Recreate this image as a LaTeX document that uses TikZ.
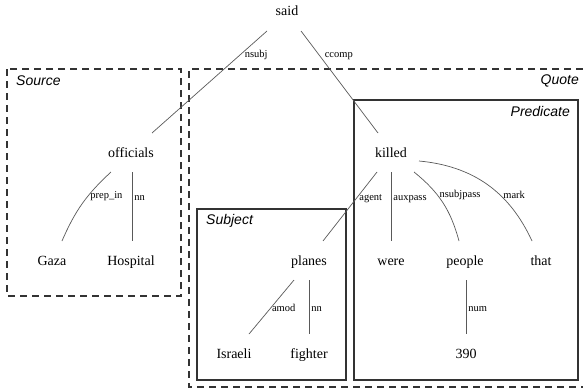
\documentclass[tikz,border=0pt]{standalone}
\usepackage{fontspec}
\setmainfont{Liberation Serif}
\setsansfont{Liberation Sans}
\usetikzlibrary{calc}
\tikzset{
  word/.style={font=\fontsize{14}{16}\selectfont, inner sep=0pt, text height=9pt, text depth=1pt},
  rel/.style={font=\fontsize{10.5}{12}\selectfont, inner sep=2pt, text height=5pt, text depth=0pt, anchor=west},
  edge/.style={draw=black!65, line width=.7pt},
  dashbox/.style={draw=black!80, line width=1.1pt, dash pattern=on 7pt off 5pt},
  solidbox/.style={draw=black!80, line width=1.1pt},
  boxlabel/.style={font=\sffamily\itshape\fontsize{14}{16}\selectfont, inner sep=0pt, text height=10pt, text depth=0pt}
}

\begin{document}
\begin{tikzpicture}[x=1pt,y=-1pt]
\useasboundingbox (0,0) rectangle (583,388);

% Source and quote regions
\draw[dashbox] (7,69) rectangle (181,296);
\draw[dashbox] (583,69) -- (189,69) -- (189,387) -- (583,387);
\node[boxlabel,anchor=west] (source) at (16,80) {Source};
\node[boxlabel,anchor=east] (quote) at (579,79) {Quote};

% Subject and predicate inside the quote
\draw[solidbox] (197,209) rectangle (346,380);
\draw[solidbox] (354,100) rectangle (578,380);
\node[boxlabel,anchor=west] (subject) at (206,219) {Subject};
\node[boxlabel,anchor=east] (predicate) at (570,111) {Predicate};

% Words of the sentence
\node[word] (said)      at (287,12)  {said};
\node[word] (officials) at (131,153) {officials};
\node[word] (killed)    at (391,153) {killed};
\node[word] (gaza)      at (52,261)  {Gaza};
\node[word] (hospital)  at (131,261) {Hospital};
\node[word] (planes)    at (309,261) {planes};
\node[word] (were)      at (391,261) {were};
\node[word] (people)    at (465,261) {people};
\node[word] (that)      at (541,261) {that};
\node[word] (israeli)   at (234,354) {Israeli};
\node[word] (fighter)   at (309,354) {fighter};
\node[word] (num390)    at (466,354) {390};

% Dependencies from the root
\draw[edge] ($(said)+(-20,19)$) --
  node[rel,pos=.24,xshift=3pt] {nsubj} ($(officials)+(21,-20)$);
\draw[edge] ($(said)+(14,19)$) --
  node[rel,pos=.24,xshift=3pt] {ccomp} ($(killed)+(-13,-20)$);

% Dependencies of the source
\draw[edge] ($(officials)+(-20,19)$) to[bend right=12]
  node[rel,pos=.38] {prep\_in} ($(gaza)+(10,-20)$);
\draw[edge] ($(officials)+(1,19)$) --
  node[rel,pos=.37] {nn} ($(hospital)+(1,-20)$);

% Dependencies of the predicate
\draw[edge] ($(killed)+(-14,19)$) --
  node[rel,pos=.37] {agent} ($(planes)+(14,-20)$);
\draw[edge] ($(killed)+(0,19)$) --
  node[rel,pos=.37] {auxpass} ($(were)+(0,-20)$);
\draw[edge] ($(killed)+(23,19)$) to[bend left=18]
  node[rel,pos=.38] {nsubjpass} ($(people)+(-6,-20)$);
\draw[edge] ($(killed)+(28,8)$) to[bend left=30]
  node[rel,pos=.63] {mark} ($(that)+(-9,-20)$);
\draw[edge] ($(people)+(1,19)$) --
  node[rel,pos=.54] {num} ($(num390)+(0,-20)$);

% Dependencies of the subject
\draw[edge] ($(planes)+(-15,19)$) --
  node[rel,pos=.54] {amod} ($(israeli)+(15,-20)$);
\draw[edge] ($(planes)+(0,19)$) --
  node[rel,pos=.54] {nn} ($(fighter)+(0,-20)$);
\end{tikzpicture}
\end{document}
